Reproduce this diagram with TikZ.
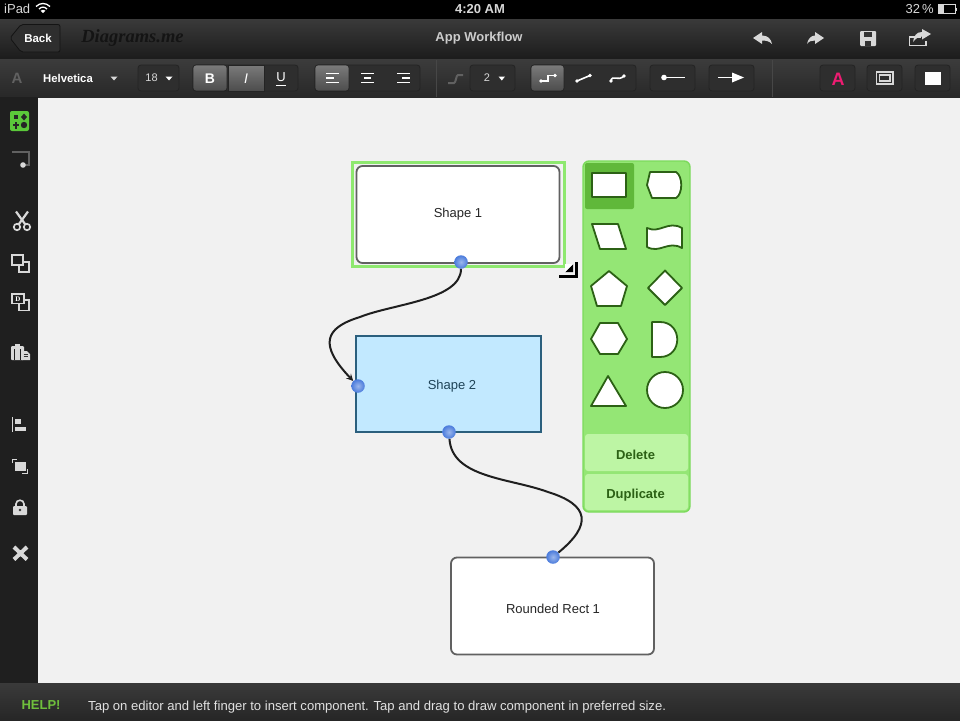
\documentclass[tikz,border=0pt]{standalone}
\usepackage{fontspec}
\setmainfont{Liberation Sans}
\newfontfamily\brandfont{Liberation Serif}
\usetikzlibrary{shadings}
\definecolor{barTop}{HTML}{3A3A3A}
\definecolor{barBot}{HTML}{1C1C1C}
\definecolor{toolTop}{HTML}{3C3C3C}
\definecolor{toolBot}{HTML}{282828}
\definecolor{sideBar}{HTML}{1F1F1F}
\definecolor{canvasGrey}{HTML}{F1F1F1}
\definecolor{iconGrey}{HTML}{D8D8D8}
\definecolor{btnDark}{HTML}{2E2E2E}
\definecolor{btnEdge}{HTML}{242424}
\definecolor{selGreen}{HTML}{8EE86F}
\definecolor{panelGreen}{HTML}{94E675}
\definecolor{panelEdge}{HTML}{7CDA5C}
\definecolor{cellGreen}{HTML}{60B83A}
\definecolor{btnGreen}{HTML}{BDF5A4}
\definecolor{darkGreen}{HTML}{2C6115}
\definecolor{skyFill}{HTML}{C2E9FF}
\definecolor{skyEdge}{HTML}{2B5F7D}
\definecolor{dotBlue}{HTML}{4A7BDC}
\definecolor{helpGreen}{HTML}{6FBF3C}
\definecolor{pinkA}{HTML}{EE1C72}
\definecolor{appGreen}{HTML}{5BC83A}

\begin{document}
\begin{tikzpicture}[x=1pt,y=-1pt,>=stealth,
  txt/.style={inner sep=0pt,font=\fontsize{13}{15}\selectfont},
  barlabel/.style={txt,text=white,font=\fontsize{11.5}{14}\selectfont\bfseries},
  btn/.style={fill=btnDark,draw=btnEdge,line width=0.8pt,rounded corners=3pt},
  btnon/.style={top color=black!52,bottom color=black!70,draw=btnEdge,line width=0.6pt},
  glyph/.style={draw=iconGrey,line width=1.9pt},
  glyphw/.style={draw=white,line width=1.6pt},
  stencil/.style={draw=darkGreen,fill=white,line width=1.8pt,line join=round},
  shapebox/.style={draw=black!62,fill=white,line width=1.8pt,rounded corners=6pt,minimum width=203pt,minimum height=97pt,inner sep=0pt,txt,text=black!85},
  bluebox/.style={draw=skyEdge,fill=skyFill,line width=1.6pt,minimum width=185pt,minimum height=96pt,inner sep=0pt},
  pin/.style={circle,inner color=dotBlue!55!white,outer color=dotBlue,minimum size=13.5pt,inner sep=0pt},
  wire/.style={draw=black!88,line width=2pt},
  greenbtn/.style={fill=btnGreen,rounded corners=3pt,minimum width=103pt,inner sep=0pt,text=darkGreen,font=\fontsize{13}{15}\selectfont\bfseries}]
\useasboundingbox (0,0) rectangle (960,720);

% bars
\fill[canvasGrey] (0,0) rectangle (960,720);
\fill[black] (0,0) rectangle (960,19);
\shade[top color=barTop,bottom color=barBot] (0,19) rectangle (960,59);
\shade[top color=toolTop,bottom color=toolBot] (0,59) rectangle (960,97);
\fill[sideBar] (0,97) rectangle (38,683);
\shade[top color=barTop,bottom color=black!85] (0,683) rectangle (960,720);
\draw[black!72,line width=0.8pt] (436,60) -- (436,97);
\draw[black!72,line width=0.8pt] (772,60) -- (772,97);

% status bar
\node[txt,text=iconGrey,anchor=west] (carrier) at (4,8.5) {iPad};
\draw[white,line width=1.3pt] (36,6.5) .. controls (40,2.5) and (46,2.5) .. (50,6.5);
\draw[white,line width=1.3pt] (39,9) .. controls (41.5,6.5) and (44.5,6.5) .. (47,9);
\fill[white] (43,13) -- (40.5,10.7) .. controls (42,9.5) and (44,9.5) .. (45.5,10.7) -- cycle;
\node[txt,text=iconGrey,font=\fontsize{13}{15}\selectfont\bfseries] (clock) at (480,9) {4:20 AM};
\node[txt,text=iconGrey,anchor=east] (percent) at (934,9) {32\,\%};
\draw[iconGrey,line width=0.8pt] (938,4.5) rectangle (955,13.5);
\fill[iconGrey] (938.5,5) rectangle (944,13);
\fill[iconGrey] (955.5,7.5) rectangle (957,10.5);

% title bar
\filldraw[fill=black!82,draw=black!92,line width=0.8pt,rounded corners=2pt] (10,38) -- (21,24.5) -- (60,24.5) -- (60,52) -- (21,52) -- cycle;
\node[barlabel] (backLabel) at (38,38.5) {Back};
\node[text=black!92,inner sep=0pt,font=\brandfont\fontsize{18.5}{20}\selectfont\bfseries\itshape] (brand) at (132.5,38.5) {Diagrams.me};
\node[txt,text=black!20,font=\fontsize{13}{15}\selectfont\bfseries] (title) at (479,38) {App Workflow};
\fill[iconGrey] (753,38) -- (762,32) -- (762,35.5) .. controls (768,35.5) and (771,39) .. (772,44) .. controls (769,41) and (766,40.5) .. (762,40.5) -- (762,44) -- cycle;
\fill[iconGrey] (824,38) -- (815,32) -- (815,35.5) .. controls (811,35.5) and (808,39) .. (807,44) .. controls (809,41) and (812,40.5) .. (815,40.5) -- (815,44) -- cycle;
\fill[iconGrey,rounded corners=1pt] (860,31) rectangle (876,46);
\fill[black!80] (864,31.5) rectangle (872,36.5);
\fill[black!80] (865,41) rectangle (871,46);
\draw[iconGrey,line width=1.6pt] (921,37) -- (909.5,37) -- (909.5,45.5) -- (926,45.5) -- (926,41);
\fill[iconGrey] (931,34) -- (922,29) -- (922,32) .. controls (916,32) and (914,36) .. (913,42) .. controls (916,38) and (919,36.5) .. (922,36.5) -- (922,39.5) -- cycle;

% text tools
\node[txt,text=black!62,font=\fontsize{15}{15}\selectfont\bfseries] (fontA) at (17,78) {A};
\node[barlabel,font=\fontsize{11.3}{13}\selectfont\bfseries] (fontName) at (68,78) {Helvetica};
\fill[iconGrey] (110.5,76.5) -- (117.5,76.5) -- (114,80.5) -- cycle;
\filldraw[btn] (138,65) rectangle (179,91);
\node[txt,text=iconGrey,font=\fontsize{11}{13}\selectfont] (fontSize) at (151.5,78) {18};
\fill[white] (165.5,76.5) -- (172.5,76.5) -- (169,80.5) -- cycle;
\filldraw[btn] (193,65) rectangle (298,91);
\filldraw[btnon,rounded corners=3pt] (193,65) rectangle (227,91);
\filldraw[btnon] (228,65) rectangle (264,91);
\node[barlabel,font=\fontsize{14}{15}\selectfont\bfseries] (boldB) at (210,78.5) {B};
\node[txt,text=white,font=\fontsize{14}{15}\selectfont\itshape] (italI) at (246,78.5) {I};
\node[txt,text=white,font=\fontsize{13}{15}\selectfont] (underU) at (281,77.5) {U};
\draw[white,line width=0.8pt] (276,85.5) -- (286,85.5);
\filldraw[btn] (315,65) rectangle (420,91);
\filldraw[btnon,rounded corners=3pt] (315,65) rectangle (349,91);
\draw[glyphw] (326,73.5) -- (339,73.5) (326,78) -- (334,78) (326,82.5) -- (339,82.5);
\draw[glyphw] (361,73.5) -- (374,73.5) (364,78) -- (371,78) (361,82.5) -- (374,82.5);
\draw[glyphw] (397,73.5) -- (410,73.5) (402,78) -- (410,78) (397,82.5) -- (410,82.5);

% line tools
\draw[black!62,line width=2pt,rounded corners=2pt] (448,83) -- (452,83) .. controls (456,83) and (456,75) .. (460,75) -- (463,75);
\filldraw[btn] (470,65) rectangle (515,91);
\node[txt,text=iconGrey,font=\fontsize{11}{13}\selectfont] (lineSize) at (487,78) {2};
\fill[white] (498.5,76.5) -- (505,76.5) -- (501.8,80.5) -- cycle;
\filldraw[btn] (531,65) rectangle (636,91);
\filldraw[btnon,rounded corners=3pt] (531,65) rectangle (564,91);
\draw[glyphw] (541,81) -- (548,81) -- (548,75.5) -- (555,75.5);
\fill[white] (541,81) circle (1.8) (555,75.5) circle (1.8);
\draw[glyphw] (577,81) -- (590,75.5);
\fill[white] (577,81) circle (1.8) (590,75.5) circle (1.8);
\draw[glyphw] (611,81) .. controls (612,74) and (618,82) .. (624,76);
\fill[white] (611,81) circle (1.8) (624,76) circle (1.8);
\filldraw[btn] (650,65) rectangle (695,91);
\draw[glyphw] (664,77.5) -- (685,77.5);
\fill[white] (664,77.5) circle (2.8);
\filldraw[btn] (709,65) rectangle (754,91);
\draw[white,line width=1.6pt] (718,77.5) -- (735,77.5);
\fill[white] (744,77.5) -- (732,72.5) -- (732,82.5) -- cycle;

% colour tools
\filldraw[btn] (820,65) rectangle (855,91);
\node[inner sep=0pt,text=pinkA,font=\fontsize{18}{18}\selectfont\bfseries] (fillA) at (838,79) {A};
\filldraw[btn] (867,65) rectangle (902,91);
\draw[iconGrey,line width=1.2pt] (876.5,72) rectangle (893,84);
\draw[iconGrey,line width=1.2pt] (879.5,75) rectangle (890,81);
\filldraw[btn] (915,65) rectangle (950,91);
\fill[white] (924.5,72) rectangle (941,85);

% side bar
\fill[appGreen,rounded corners=2pt] (10,111) rectangle (29,131);
\fill[black!85] (13.5,114.5) rectangle (18,119);
\fill[black!85] (24,113.5) -- (27,117) -- (24,120.5) -- (21,117) -- cycle;
\fill[black!85] (15,122) rectangle (17,128.5);
\fill[black!85] (12.8,124.2) rectangle (19.2,126.3);
\fill[black!85] (24,125) circle (3.2);
\draw[black!62,line width=2pt] (12,152) -- (28.5,152) -- (28.5,165) -- (23,165);
\fill[iconGrey] (23,165) circle (2.8);
\draw[iconGrey,line width=1.7pt] (17,227) circle (3.2) (27,227) circle (3.2);
\draw[iconGrey,line width=2.2pt] (18.7,224.4) -- (28,211.5) (25.3,224.4) -- (16,211.5);
\draw[glyph] (12,255) rectangle (23,265);
\draw[glyph] (23,262) -- (29,262) -- (29,272) -- (19,272) -- (19,265);
\draw[glyph] (12,294) rectangle (24,303.5);
\node[inner sep=0pt,text=white,font=\brandfont\fontsize{7}{7}\selectfont\bfseries] (dupD) at (18,298.8) {D};
\draw[glyph] (24,300) -- (29,300) -- (29,310.5) -- (19,310.5) -- (19,303.5);
\fill[iconGrey,rounded corners=1pt] (11,346) rectangle (24,360);
\fill[iconGrey] (15,344) rectangle (20,347.5);
\fill[sideBar] (14,349) rectangle (21,360);
\fill[iconGrey] (15,349) rectangle (20,360);
\fill[iconGrey] (22,351) -- (27,351) -- (30,354) -- (30,360) -- (22,360) -- cycle;
\draw[black!80,line width=0.6pt] (23.5,354) -- (28,354) (23.5,356.5) -- (28,356.5);
\draw[iconGrey,line width=1pt] (12.5,417) -- (12.5,432);
\fill[iconGrey] (14.5,419) rectangle (21,424);
\fill[iconGrey] (14.5,426.5) rectangle (26,430.5);
\draw[iconGrey,line width=1.2pt] (12.5,463) -- (12.5,459.5) -- (17,459.5);
\draw[iconGrey,line width=1.2pt] (27.5,469) -- (27.5,473.5) -- (22,473.5);
\fill[iconGrey] (15,461.5) rectangle (25.5,471);
\fill[iconGrey,rounded corners=1pt] (13,506) rectangle (27,515);
\draw[iconGrey,line width=1.6pt] (16,506) -- (16,504) .. controls (16,499) and (24,499) .. (24,504) -- (24,506);
\fill[black!80] (20,510) circle (1.4);
\draw[iconGrey,line width=4pt] (14,547) -- (27,559.5) (27,547) -- (14,559.5);

% help bar
\node[txt,text=helpGreen,font=\fontsize{13}{15}\selectfont\bfseries] (helpTag) at (41,705) {HELP!};
\node[txt,text=black!12,anchor=west,font=\fontsize{13.08}{15}\selectfont] (helpText) at (88,707) {Tap on editor and left finger to insert component. Tap and drag to draw component in preferred size.};

% diagram
\draw[selGreen,line width=3pt] (352,162) rectangle (564,266);
\node[shapebox] (shapeOne) at (458,214.5) {};
\node[txt,text=black!85] (shapeOneText) at (458,214.5) {Shape 1};
\node[bluebox] (shapeTwo) at (448.5,384) {};
\node[txt,text=skyEdge!70!black] (shapeTwoText) at (452,386.5) {Shape 2};
\node[shapebox] (roundRect) at (552.5,606) {};
\node[txt,text=black!85] (roundRectText) at (553,608.5) {Rounded Rect 1};

\coordinate (bendA) at (360,317);
\coordinate (bendB) at (548,492);
\node[pin] (pinA) at (461,262) {};
\node[pin] (pinB) at (358,386) {};
\node[pin] (pinC) at (449,432) {};
\node[pin] (pinD) at (553,557) {};
\draw[wire] (pinA) .. controls (461,300) and (392,304) .. (bendA);
\draw[wire,->] (bendA) .. controls (324,328) and (319,345) .. (pinB);
\draw[wire] (pinC) .. controls (452,478) and (510,478) .. (bendB);
\draw[wire] (bendB) .. controls (590,505) and (592,525) .. (pinD);

% resize handle
\draw[black,line width=3pt] (559,276.5) -- (576,276.5) -- (576,262);
\fill[black] (565,272) -- (573,264) -- (573,272) -- cycle;
\fill[white] (565,272) -- (573,264) -- (565,264) -- cycle;

% stencil panel
\filldraw[fill=panelGreen,draw=panelEdge,line width=1.4pt,rounded corners=6pt] (583,161) rectangle (690,512);
\fill[cellGreen,rounded corners=2pt] (585,163) rectangle (634,209);
\draw[stencil] (592,173) rectangle (626,197);
\draw[stencil] (650,172) -- (676,172) .. controls (683,176) and (683,194) .. (676,198) -- (652,198) -- (647,185) -- cycle;
\draw[stencil] (592,224) -- (618,224) -- (626,249) -- (600,249) -- cycle;
\draw[stencil] (647,228) .. controls (660,234) and (668,220) .. (682,228) -- (682,248) .. controls (668,240) and (660,254) .. (647,247) -- cycle;
\draw[stencil] (609,271) -- (627,286) -- (621,306) -- (597,306) -- (591,286) -- cycle;
\draw[stencil] (665,270.5) -- (682,288) -- (665,305) -- (648,288) -- cycle;
\draw[stencil] (591,339) -- (600,323) -- (618,323) -- (627,339) -- (618,354) -- (600,354) -- cycle;
\draw[stencil] (652,322) -- (660,322) .. controls (683,322) and (683,357) .. (660,357) -- (652,357) -- cycle;
\draw[stencil] (608,376) -- (626,406) -- (591,406) -- cycle;
\draw[stencil] (665,390) circle (18);
\node[greenbtn,minimum height=37pt] (deleteBtn) at (636.5,452.5) {};
\node[inner sep=0pt,text=darkGreen,font=\fontsize{13}{15}\selectfont\bfseries] (deleteText) at (635.5,454.5) {Delete};
\node[greenbtn,minimum height=36pt] (duplicateBtn) at (636.5,492) {};
\node[inner sep=0pt,text=darkGreen,font=\fontsize{13}{15}\selectfont\bfseries] (duplicateText) at (635.5,495.5) {Duplicate};
\end{tikzpicture}
\end{document}
